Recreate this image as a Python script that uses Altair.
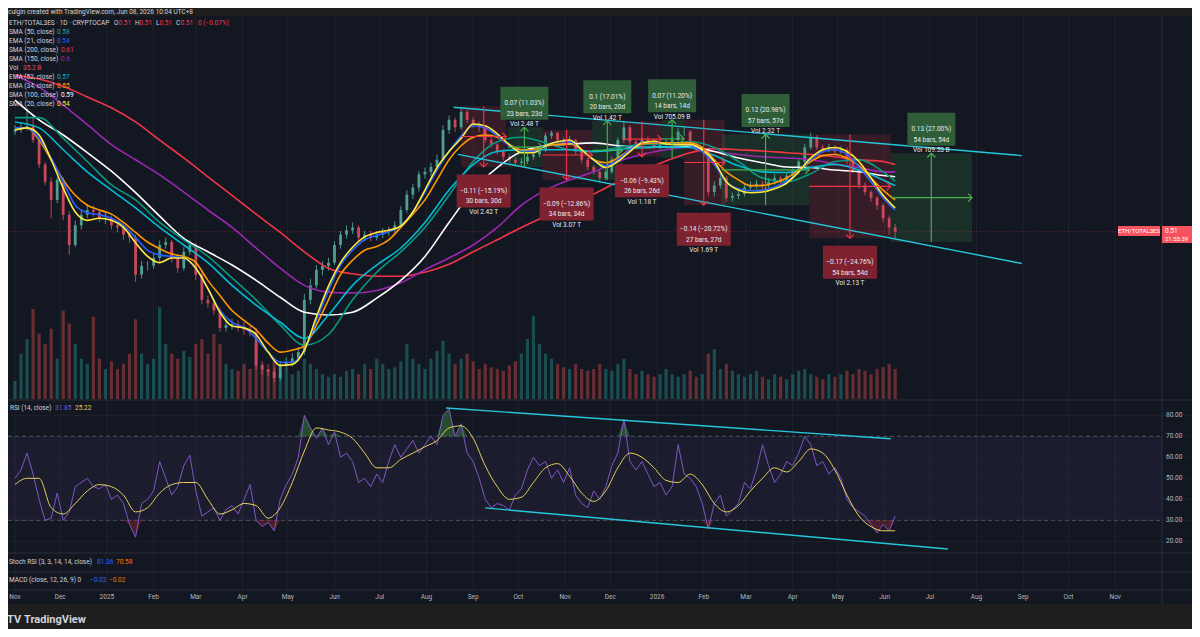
import altair as alt
import pandas as pd
import numpy as np

FONT = "Roboto"
BG = "#131722"
FRAME = "#1e1e1e"
TXT = "#d1d4dc"
MUTED = "#b2b5be"
GRID = "#1e222d"
SEP = "#2a2e39"
CANDLE_UP = "#4f9f91"
CANDLE_DN = "#c9485b"
VOL_UP = "#26a69a"
VOL_DN = "#ef5350"
GREEN = "#4caf50"
RED = "#f23645"
CHANNEL = "#26c6da"

# ---------------- data ----------------
first_open = 0.668
close = [
    0.671, 0.676, 0.678, 0.653, 0.611, 0.583, 0.555, 0.586, 0.533, 0.491,
    0.518, 0.533, 0.540, 0.537, 0.528, 0.528, 0.518, 0.515, 0.505, 0.501,
    0.453, 0.464, 0.464, 0.474, 0.491, 0.495, 0.474, 0.461, 0.482, 0.491,
    0.453, 0.423, 0.419, 0.411, 0.392, 0.395, 0.396, 0.392, 0.390, 0.388,
    0.354, 0.350, 0.348, 0.342, 0.354, 0.357, 0.361, 0.367, 0.423, 0.440,
    0.459, 0.464, 0.468, 0.491, 0.505, 0.511, 0.515, 0.501, 0.505, 0.501,
    0.505, 0.509, 0.511, 0.518, 0.540, 0.563, 0.574, 0.595, 0.599, 0.607,
    0.619, 0.671, 0.690, 0.676, 0.705, 0.690, 0.681, 0.676, 0.653, 0.645,
    0.633, 0.624, 0.619, 0.614, 0.616, 0.624, 0.628, 0.636, 0.661, 0.666,
    0.653, 0.648, 0.653, 0.633, 0.619, 0.607, 0.599, 0.589, 0.599, 0.619,
    0.653, 0.676, 0.650, 0.645, 0.653, 0.650, 0.640, 0.645, 0.650, 0.653,
    0.668, 0.668, 0.645, 0.636, 0.636, 0.567, 0.577, 0.589, 0.558, 0.561,
    0.564, 0.574, 0.577, 0.580, 0.577, 0.583, 0.589, 0.583, 0.593, 0.599,
    0.616, 0.640, 0.658, 0.640, 0.636, 0.640, 0.633, 0.636, 0.616, 0.602,
    0.578, 0.567, 0.558, 0.547, 0.528, 0.515, 0.509]
high = [
    0.680, 0.685, 0.712, 0.700, 0.658, 0.615, 0.590, 0.590, 0.590, 0.538,
    0.525, 0.540, 0.548, 0.547, 0.540, 0.536, 0.532, 0.524, 0.518, 0.510,
    0.505, 0.470, 0.470, 0.480, 0.497, 0.501, 0.498, 0.478, 0.488, 0.497,
    0.494, 0.456, 0.428, 0.424, 0.414, 0.400, 0.402, 0.400, 0.398, 0.394,
    0.392, 0.358, 0.355, 0.352, 0.358, 0.362, 0.366, 0.372, 0.430, 0.448,
    0.465, 0.470, 0.474, 0.496, 0.510, 0.518, 0.522, 0.518, 0.510, 0.510,
    0.510, 0.514, 0.516, 0.524, 0.546, 0.570, 0.580, 0.600, 0.606, 0.614,
    0.628, 0.680, 0.698, 0.694, 0.713, 0.710, 0.695, 0.686, 0.680, 0.658,
    0.648, 0.636, 0.628, 0.624, 0.622, 0.630, 0.634, 0.642, 0.666, 0.670,
    0.668, 0.658, 0.660, 0.656, 0.636, 0.622, 0.610, 0.602, 0.604, 0.624,
    0.658, 0.686, 0.680, 0.655, 0.658, 0.660, 0.654, 0.650, 0.655, 0.660,
    0.675, 0.678, 0.671, 0.650, 0.642, 0.640, 0.584, 0.596, 0.592, 0.566,
    0.570, 0.580, 0.583, 0.586, 0.584, 0.589, 0.595, 0.593, 0.598, 0.605,
    0.622, 0.646, 0.666, 0.662, 0.645, 0.646, 0.644, 0.642, 0.640, 0.620,
    0.605, 0.582, 0.570, 0.561, 0.550, 0.532, 0.520]
low = [
    0.662, 0.666, 0.670, 0.648, 0.605, 0.578, 0.528, 0.550, 0.525, 0.478,
    0.488, 0.512, 0.528, 0.530, 0.522, 0.520, 0.512, 0.508, 0.498, 0.494,
    0.444, 0.448, 0.458, 0.460, 0.470, 0.486, 0.468, 0.455, 0.458, 0.478,
    0.446, 0.418, 0.414, 0.406, 0.388, 0.388, 0.390, 0.388, 0.385, 0.383,
    0.350, 0.345, 0.344, 0.338, 0.339, 0.350, 0.353, 0.358, 0.364, 0.418,
    0.436, 0.452, 0.458, 0.465, 0.486, 0.500, 0.506, 0.496, 0.496, 0.496,
    0.497, 0.500, 0.503, 0.506, 0.514, 0.536, 0.556, 0.568, 0.588, 0.592,
    0.600, 0.615, 0.664, 0.668, 0.672, 0.684, 0.675, 0.668, 0.648, 0.640,
    0.628, 0.618, 0.614, 0.610, 0.609, 0.612, 0.619, 0.623, 0.632, 0.655,
    0.648, 0.642, 0.643, 0.628, 0.613, 0.602, 0.594, 0.584, 0.585, 0.596,
    0.615, 0.648, 0.645, 0.640, 0.641, 0.645, 0.636, 0.636, 0.640, 0.645,
    0.650, 0.660, 0.640, 0.632, 0.630, 0.560, 0.560, 0.572, 0.552, 0.553,
    0.556, 0.560, 0.569, 0.572, 0.571, 0.573, 0.578, 0.578, 0.579, 0.588,
    0.595, 0.612, 0.636, 0.636, 0.630, 0.632, 0.628, 0.629, 0.611, 0.597,
    0.573, 0.562, 0.552, 0.540, 0.522, 0.505, 0.500]
volume_b = [
    21, 53, 70, 105, 76, 64, 82, 47, 103, 88,
    64, 47, 41, 96, 47, 35, 44, 35, 41, 53,
    93, 53, 41, 47, 107, 64, 53, 47, 56, 49,
    64, 70, 53, 76, 64, 41, 35, 33, 41, 35,
    64, 41, 35, 44, 29, 35, 29, 33, 47, 41,
    35, 29, 26, 29, 26, 33, 35, 29, 41, 35,
    47, 41, 35, 37, 44, 64, 47, 41, 35, 47,
    56, 68, 53, 41, 47, 53, 44, 35, 41, 37,
    35, 33, 39, 44, 53, 70, 97, 64, 53, 47,
    41, 37, 35, 41, 35, 33, 35, 41, 35, 33,
    41, 47, 35, 29, 33, 29, 26, 29, 35, 29,
    26, 29, 33, 26, 29, 53, 58, 35, 41, 33,
    29, 26, 29, 33, 26, 23, 29, 26, 23, 29,
    33, 35, 29, 26, 23, 29, 26, 29, 33, 29,
    35, 33, 29, 35, 37, 41, 35]
rsi_values = [
    50, 54, 62, 52, 40, 30, 31, 43, 30, 34,
    46, 48, 50, 46, 45, 47, 40, 42, 38, 28,
    22, 38, 40, 44, 58, 50, 42, 46, 56, 61,
    44, 32, 34, 36, 30, 35, 37, 33, 40, 47,
    30, 27, 29, 25, 40, 47, 52, 60, 80, 74,
    69, 74, 66, 72, 60, 62, 58, 48, 50, 46,
    52, 48, 58, 66, 60, 64, 68, 62, 66, 70,
    66, 80, 83, 70, 76, 62, 58, 50, 40, 36,
    38, 37, 35, 42, 45, 54, 60, 56, 58, 50,
    54, 48, 55, 42, 38, 36, 44, 40, 46, 56,
    62, 78, 58, 54, 58, 52, 46, 48, 42, 46,
    66, 52, 50, 46, 38, 26, 38, 42, 32, 35,
    38, 48, 45, 54, 66, 56, 48, 52, 58, 56,
    62, 70, 66, 56, 58, 52, 55, 50, 40, 36,
    34, 32, 28, 24, 28, 25, 32]
rsi_ma = [
    47, 50, 50, 36, 33, 38, 44, 47, 46, 42,
    34, 36, 43, 47, 48, 48, 40, 33, 35, 38,
    37, 31, 36, 48, 63, 74, 73, 72, 69, 62,
    55, 55, 59, 62, 65, 68, 74, 75, 69, 56,
    46, 40, 41, 48, 55, 57, 51, 43, 39, 44,
    55, 62, 60, 55, 49, 48, 52, 47, 38, 34,
    37, 44, 50, 55, 53, 58, 64, 62, 54, 42,
    32, 27, 25, 25]

# fast averages, one reading every 8 days
sma20 = [
    0.671, 0.675, 0.662, 0.619, 0.573, 0.537, 0.525, 0.528, 0.525, 0.515,
    0.494, 0.476, 0.468, 0.474, 0.474, 0.461, 0.436, 0.409, 0.394, 0.392,
    0.385, 0.367, 0.354, 0.355, 0.369, 0.404, 0.439, 0.468, 0.488, 0.502,
    0.508, 0.511, 0.517, 0.537, 0.570, 0.606, 0.633, 0.656, 0.682, 0.679,
    0.664, 0.645, 0.631, 0.631, 0.643, 0.650, 0.653, 0.636, 0.619, 0.606,
    0.616, 0.633, 0.648, 0.651, 0.646, 0.645, 0.645, 0.636, 0.616, 0.583,
    0.570, 0.566, 0.567, 0.572, 0.581, 0.599, 0.622, 0.636, 0.640, 0.633,
    0.616, 0.589, 0.562, 0.543]
ema21 = [
    0.675, 0.675, 0.656, 0.622, 0.583, 0.547, 0.536, 0.533, 0.528, 0.518,
    0.501, 0.484, 0.478, 0.476, 0.474, 0.461, 0.436, 0.411, 0.398, 0.392,
    0.381, 0.367, 0.357, 0.357, 0.369, 0.400, 0.434, 0.465, 0.484, 0.498,
    0.504, 0.509, 0.517, 0.537, 0.567, 0.602, 0.633, 0.660, 0.679, 0.675,
    0.660, 0.643, 0.633, 0.633, 0.643, 0.650, 0.650, 0.636, 0.619, 0.609,
    0.619, 0.636, 0.648, 0.650, 0.646, 0.645, 0.643, 0.633, 0.611, 0.583,
    0.572, 0.569, 0.570, 0.575, 0.583, 0.599, 0.619, 0.633, 0.636, 0.628,
    0.607, 0.583, 0.558, 0.540]
ema34 = [
    0.675, 0.675, 0.653, 0.619, 0.586, 0.562, 0.547, 0.540, 0.534, 0.522,
    0.508, 0.495, 0.486, 0.479, 0.476, 0.468, 0.446, 0.428, 0.411, 0.400,
    0.390, 0.376, 0.367, 0.369, 0.373, 0.395, 0.423, 0.453, 0.471, 0.484,
    0.489, 0.498, 0.515, 0.534, 0.555, 0.586, 0.619, 0.643, 0.658, 0.662,
    0.658, 0.645, 0.636, 0.636, 0.643, 0.645, 0.646, 0.636, 0.619, 0.614,
    0.622, 0.636, 0.646, 0.648, 0.648, 0.648, 0.648, 0.640, 0.619, 0.599,
    0.586, 0.577, 0.577, 0.581, 0.589, 0.602, 0.616, 0.626, 0.628, 0.622,
    0.609, 0.589, 0.570, 0.555]
# slow averages, one reading every 16 days plus the last bar
ema52 = [0.686, 0.675, 0.636, 0.599, 0.570, 0.543, 0.515, 0.491, 0.468, 0.440,
         0.417, 0.398, 0.381, 0.406, 0.440, 0.465, 0.487, 0.522, 0.570, 0.611,
         0.633, 0.636, 0.636, 0.636, 0.633, 0.636, 0.640, 0.641, 0.640, 0.626,
         0.609, 0.599, 0.598, 0.606, 0.611, 0.602, 0.586, 0.577]
sma50 = [0.694, 0.694, 0.656, 0.616, 0.578, 0.555, 0.522, 0.498, 0.476, 0.449,
         0.423, 0.395, 0.374, 0.385, 0.423, 0.456, 0.482, 0.515, 0.562, 0.616,
         0.650, 0.658, 0.648, 0.636, 0.633, 0.640, 0.645, 0.646, 0.650, 0.640,
         0.616, 0.589, 0.583, 0.596, 0.616, 0.619, 0.599, 0.584]
sma100 = [0.728, 0.690, 0.662, 0.631, 0.600, 0.566, 0.531, 0.500, 0.482, 0.465,
          0.446, 0.426, 0.409, 0.406, 0.409, 0.425, 0.446, 0.476, 0.522, 0.570,
          0.606, 0.633, 0.643, 0.646, 0.648, 0.643, 0.640, 0.641, 0.641, 0.633,
          0.622, 0.614, 0.607, 0.606, 0.602, 0.599, 0.593, 0.591]
sma150 = [0.778, 0.754, 0.718, 0.681, 0.645, 0.619, 0.594, 0.567, 0.540, 0.515,
          0.487, 0.461, 0.440, 0.432, 0.431, 0.434, 0.443, 0.459, 0.474, 0.491,
          0.515, 0.547, 0.570, 0.586, 0.599, 0.616, 0.628, 0.636, 0.641, 0.633,
          0.628, 0.624, 0.622, 0.619, 0.612, 0.606, 0.599, 0.599]
sma200 = [0.779, 0.771, 0.756, 0.734, 0.713, 0.686, 0.653, 0.622, 0.591, 0.562,
          0.534, 0.508, 0.482, 0.461, 0.454, 0.451, 0.451, 0.456, 0.466, 0.482,
          0.498, 0.515, 0.531, 0.547, 0.564, 0.583, 0.601, 0.617, 0.631, 0.638,
          0.636, 0.634, 0.631, 0.628, 0.624, 0.619, 0.616, 0.611]

# price-range measurements
box_start = ["2025-08-24", "2025-09-24", "2025-10-17", "2025-11-19", "2025-12-09",
             "2026-01-04", "2026-01-19", "2026-02-13", "2026-04-12", "2026-06-05"]
box_end = ["2025-09-23", "2025-10-17", "2025-11-19", "2025-12-09", "2026-01-04",
           "2026-01-19", "2026-02-15", "2026-04-12", "2026-06-05", "2026-07-29"]
box_from = [0.716, 0.607, 0.671, 0.586, 0.687, 0.622, 0.690, 0.547, 0.663, 0.495]
box_to = [0.607, 0.676, 0.586, 0.688, 0.624, 0.690, 0.547, 0.663, 0.500, 0.630]
box_text = [
    "\u22120.11 (\u221215.19%)\n30 bars, 30d\nVol 2.42 T",
    "0.07 (11.03%)\n23 bars, 23d\nVol 2.48 T",
    "\u22120.09 (\u221212.86%)\n34 bars, 34d\nVol 3.07 T",
    "0.1 (17.01%)\n20 bars, 20d\nVol 1.42 T",
    "\u22120.06 (\u22129.43%)\n26 bars, 26d\nVol 1.18 T",
    "0.07 (11.20%)\n14 bars, 14d\nVol 705.09 B",
    "\u22120.14 (\u221220.72%)\n27 bars, 27d\nVol 1.69 T",
    "0.12 (20.98%)\n57 bars, 57d\nVol 2.32 T",
    "\u22120.17 (\u221224.76%)\n54 bars, 54d\nVol 2.13 T",
    "0.13 (27.00%)\n54 bars, 54d\nVol 109.53 B",
]

# channel lines
price_channel = {"line": ["upper", "upper", "lower", "lower"],
                 "date": ["2025-08-19", "2026-08-31", "2025-08-22", "2026-08-31"],
                 "price": [0.714, 0.626, 0.628, 0.467]}
rsi_channel = {"line": ["upper", "upper", "lower", "lower"],
               "date": ["2025-08-14", "2026-06-05", "2025-09-09", "2026-07-13"],
               "rsi": [83.5, 68.8, 35.9, 16.3]}
rsi_levels = [20, 30, 40, 50, 60, 70, 80]
rsi_level_labels = ["20.00", "30.00", "40.00", "50.00", "60.00", "70.00", "80.00"]
last_price = 0.509

month_dates = pd.date_range("2024-11-01", "2026-11-01", freq="MS").strftime("%Y-%m-%d")
month_labels = ["Nov", "Dec", "2025", "Feb", "Mar", "Apr", "May", "Jun", "Jul", "Aug", "Sep", "Oct",
                "Nov", "Dec", "2026", "Feb", "Mar", "Apr", "May", "Jun", "Jul", "Aug", "Sep", "Oct", "Nov"]

# ---------------- frames ----------------
candle_dates = pd.date_range("2024-11-01", periods=len(close), freq="4D").strftime("%Y-%m-%d")
fast_dates = pd.date_range("2024-11-01", periods=len(sma20), freq="8D").strftime("%Y-%m-%d")
slow_dates = list(pd.date_range("2024-11-01", periods=37, freq="16D").strftime("%Y-%m-%d")) + ["2026-06-08"]

candles = pd.DataFrame({"date": candle_dates, "close": close, "high": high, "low": low,
                        "vol": volume_b, "rsi": rsi_values})
candles["open"] = [first_open] + close[:-1]

boxes = pd.DataFrame({"t1": box_start, "t2": box_end, "p1": box_from, "p2": box_to, "label": box_text})
boxes["kind"] = np.where(boxes["p2"] > boxes["p1"], "up", "down")
_t1 = pd.to_datetime(boxes["t1"])
_t2 = pd.to_datetime(boxes["t2"])
boxes["tmid"] = (_t1 + (_t2 - _t1) / 2).dt.strftime("%Y-%m-%d")
boxes["pmid"] = np.sqrt(boxes["p1"] * boxes["p2"])

months = pd.DataFrame({"m": month_dates, "lab": month_labels})
levels = pd.DataFrame({"v": rsi_levels, "lab": rsi_level_labels})

# ---------------- scales ----------------
W, H = 1184, 621
PR = 1154  # right edge of the panes
xs = alt.Scale(type="utc", nice=False, domain=[
    alt.DateTime(year=2024, month=10, date=30, hours=16, minutes=25, utc=True),
    alt.DateTime(year=2026, month=12, date=18, hours=15, minutes=7, utc=True)])
ps = alt.Scale(type="log", domain=[0.3, 0.9], range=[418.3, 14.0], nice=False)
vs = alt.Scale(type="linear", domain=[0, 140], range=[391, 271], nice=False, zero=False)
rs = alt.Scale(type="linear", domain=[0, 100], range=[575.3, 365.3], nice=False, zero=False)


def X(field):
    return alt.X(f"{field}:T", scale=xs, axis=None)


def PY(field):
    return alt.Y(f"{field}:Q", scale=ps, axis=None)


def RY(field):
    return alt.Y(f"{field}:Q", scale=rs, axis=None)


kind_color = alt.Color("kind:N", scale=alt.Scale(domain=["up", "down"], range=[GREEN, RED]), legend=None)
up_cond = "datum.close >= datum.open"

layers = []

# month grid
layers.append(alt.Chart(months).mark_rule(color=GRID, strokeWidth=1).encode(
    x=X("m"), y=alt.value(8), y2=alt.value(582)))

# RSI band and grid
one = pd.DataFrame({"a": [0]})
layers.append(alt.Chart(one).mark_rect(color="#7e57c2", opacity=0.09).encode(
    x=alt.value(0), x2=alt.value(PR),
    y=alt.Y(datum=70, type="quantitative", scale=rs, axis=None), y2=alt.Y2(datum=30)))
layers.append(alt.Chart(levels).mark_rule(color=GRID).encode(
    y=RY("v"), x=alt.value(0), x2=alt.value(1185)))
layers.append(alt.Chart(pd.DataFrame({"v": [70, 30]})).mark_rule(
    color="#787b86", strokeDash=[4, 3], opacity=0.55).encode(y=RY("v"), x=alt.value(0), x2=alt.value(PR)))

# volume
layers.append(alt.Chart(candles).mark_bar(width=3.2, opacity=0.38).encode(
    x=X("date"), y=alt.Y("vol:Q", scale=vs, axis=None),
    color=alt.condition(up_cond, alt.value(VOL_UP), alt.value(VOL_DN))))

# measurement rectangles
layers.append(alt.Chart(boxes).mark_rect(opacity=0.16).encode(
    x=X("t1"), x2="t2", y=PY("p1"), y2="p2", color=kind_color))

# candles
cc = alt.condition(up_cond, alt.value(CANDLE_UP), alt.value(CANDLE_DN))
layers.append(alt.Chart(candles).mark_rule(strokeWidth=0.9).encode(
    x=X("date"), y=PY("low"), y2="high", color=cc))
layers.append(alt.Chart(candles).mark_bar(width=2.8).encode(
    x=X("date"), y=PY("open"), y2="close", color=cc))


def ma(dates, vals, color, width=1.6):
    df = pd.DataFrame({"date": dates, "v": vals})
    return alt.Chart(df).mark_line(color=color, strokeWidth=width, interpolate="monotone").encode(
        x=X("date"), y=PY("v"))


layers += [
    ma(slow_dates, sma200, "#f23645"),
    ma(slow_dates, sma150, "#9c27b0"),
    ma(slow_dates, sma100, "#ffffff"),
    ma(slow_dates, sma50, "#089981"),
    ma(slow_dates, ema52, "#00bcd4"),
    ma(fast_dates, ema34, "#ff9800"),
    ma(fast_dates, ema21, "#2962ff"),
    ma(fast_dates, sma20, "#ffeb3b"),
]

# price channel
layers.append(alt.Chart(pd.DataFrame(price_channel)).mark_line(color=CHANNEL, strokeWidth=1.4).encode(
    x=X("date"), y=PY("price"), detail="line:N"))

# measurement arrows
layers.append(alt.Chart(boxes).mark_rule(strokeWidth=1.1).encode(
    x=X("tmid"), y=PY("p1"), y2="p2", color=kind_color))
layers.append(alt.Chart(boxes).mark_rule(strokeWidth=1.1).encode(
    x=X("t1"), x2="t2", y=PY("pmid"), color=kind_color))
layers.append(alt.Chart(boxes).transform_filter("datum.kind == 'up'").mark_point(
    shape="M-1,1L0,0L1,1", filled=False, size=64, strokeWidth=1.2, opacity=1).encode(
    x=X("tmid"), y=PY("p2"), color=kind_color))
layers.append(alt.Chart(boxes).transform_filter("datum.kind == 'down'").mark_point(
    shape="M-1,-1L0,0L1,-1", filled=False, size=64, strokeWidth=1.2, opacity=1).encode(
    x=X("tmid"), y=PY("p2"), color=kind_color))
layers.append(alt.Chart(boxes).mark_point(
    shape="M-1,-1L0,0L-1,1", filled=False, size=64, strokeWidth=1.2, opacity=1).encode(
    x=X("t2"), y=PY("pmid"), color=kind_color))

# measurement labels
for kind, fill, w, off in [("down", "#7f2230", 54, 24), ("up", "#2e5d37", 48, -24)]:
    hh = 16.5 / (w / 2)
    path = f"M-1,-{hh:.3f}L1,-{hh:.3f}L1,{hh:.3f}L-1,{hh:.3f}Z"
    layers.append(alt.Chart(boxes).transform_filter(f"datum.kind == '{kind}'").mark_point(
        shape=path, size=w * w, filled=True, color=fill, opacity=1, strokeWidth=0, yOffset=off).encode(
        x=X("tmid"), y=PY("p2")))
    layers.append(alt.Chart(boxes).transform_filter(f"datum.kind == '{kind}'").mark_text(
        yOffset=off, lineBreak="\n", lineHeight=10.5, fontSize=6.5, font=FONT, color="#e8eaf0",
        align="center", baseline="middle").encode(x=X("tmid"), y=PY("p2"), text="label:N"))

# RSI
layers.append(alt.Chart(candles).transform_calculate(hi="max(datum.rsi, 70)").mark_area(
    color=GREEN, opacity=0.35).encode(x=X("date"), y=RY("hi"), y2=alt.Y2(datum=70)))
layers.append(alt.Chart(candles).transform_calculate(lo="min(datum.rsi, 30)").mark_area(
    color=RED, opacity=0.25).encode(x=X("date"), y=RY("lo"), y2=alt.Y2(datum=30)))
layers.append(alt.Chart(candles).mark_line(color="#7e57c2", strokeWidth=1).encode(
    x=X("date"), y=RY("rsi")))
layers.append(alt.Chart(pd.DataFrame({"date": fast_dates, "v": rsi_ma})).mark_line(
    color="#e6d05a", strokeWidth=1, interpolate="monotone").encode(x=X("date"), y=RY("v")))
layers.append(alt.Chart(pd.DataFrame(rsi_channel)).mark_line(color=CHANNEL, strokeWidth=1.4).encode(
    x=X("date"), y=RY("rsi"), detail="line:N"))

# RSI scale labels
layers.append(alt.Chart(levels).mark_text(align="left", baseline="middle", fontSize=6.5, font=FONT,
                                          color=MUTED).encode(
    y=RY("v"), x=alt.value(PR + 4), text="lab:N"))

# last price line
layers.append(alt.Chart(one).mark_rule(color=RED, opacity=0.45, strokeDash=[1, 2]).encode(
    y=alt.Y(datum=last_price, type="quantitative", scale=ps, axis=None), x=alt.value(0), x2=alt.value(1110)))


# frame pieces
def box(x1, x2, y1, y2, color):
    return alt.Chart(one).mark_rect(color=color).encode(
        x=alt.value(x1), x2=alt.value(x2), y=alt.value(y1), y2=alt.value(y2))


def hline(y, x1=0, x2=1185):
    return alt.Chart(one).mark_rule(color=SEP, strokeWidth=1).encode(
        x=alt.value(x1), x2=alt.value(x2), y=alt.value(y))


layers += [box(0, W, 0, 8, FRAME), box(0, W, 596, H, FRAME),
           hline(392), hline(545), hline(564), hline(582),
           alt.Chart(one).mark_rule(color=SEP).encode(x=alt.value(PR), y=alt.value(8), y2=alt.value(596))]

# month labels on the time scale
layers.append(alt.Chart(months).mark_text(align="center", baseline="middle", fontSize=6.5, font=FONT,
                                          color=MUTED).encode(
    x=X("m"), y=alt.value(589), text="lab:N"))

# price tag
layers += [box(1110, 1152, 218, 228, "#f7525f"), box(1154, 1184, 218, 235, "#f7525f")]


def txt(s, x, y, color=TXT, size=6.5, weight="normal", align="left"):
    return alt.Chart(pd.DataFrame({"t": [s]})).mark_text(
        align=align, baseline="middle", fontSize=size, font=FONT, color=color, fontWeight=weight).encode(
        x=alt.value(x), y=alt.value(y), text="t:N")


layers += [txt("ETH/TOTAL3ES", 1131, 223, "#ffffff", 6, align="center"),
           txt("0.51", 1157, 222.5, "#ffffff", 6.5),
           txt("21:55:39", 1157, 231, "#ffffff", 6)]

# header, legends
RV = "#f23645"
OX = 106
layers += [
    txt("culgin created with TradingView.com, Jun 08, 2026 10:04 UTC+8", 0, 4, TXT, 6.5),
    txt("ETH/TOTAL3ES \u00b7 1D \u00b7 CRYPTOCAP", 1, 14.7),
    txt("O", OX, 14.7), txt("0.51", OX + 4.5, 14.7, RV),
    txt("H", OX + 21, 14.7), txt("0.51", OX + 25.5, 14.7, RV),
    txt("L", OX + 42, 14.7), txt("0.51", OX + 45.5, 14.7, RV),
    txt("C", OX + 62, 14.7), txt("0.51", OX + 66.5, 14.7, RV),
    txt("0 (\u22120.07%)", OX + 84, 14.7, RV),
    txt("SMA (50, close)", 1, 23.7), txt("0.58", 49, 23.7, "#26a69a"),
    txt("EMA (21, close)", 1, 33), txt("0.54", 49, 33, "#2962ff"),
    txt("SMA (200, close)", 1, 42), txt("0.61", 53, 42, "#f23645"),
    txt("SMA (150, close)", 1, 51.3), txt("0.6", 53, 51.3, "#9c27b0"),
    txt("Vol", 1, 60.3), txt("35.2 B", 15, 60.3, "#e0505c"),
    txt("EMA (52, close)", 1, 69.3), txt("0.57", 49, 69.3, "#00bcd4"),
    txt("EMA (34, close)", 1, 78.3), txt("0.55", 49, 78.3, "#ff9800"),
    txt("SMA (100, close)", 1, 87.3), txt("0.59", 53, 87.3, "#ffffff"),
    txt("SMA (20, close)", 1, 96.3), txt("0.54", 49, 96.3, "#ffeb3b"),
    txt("RSI (14, close)", 2, 400), txt("31.85", 47, 400, "#7e57c2"), txt("25.22", 67, 400, "#e6d05a"),
    txt("Stoch RSI (3, 3, 14, 14, close)", 1, 554), txt("81.36", 89, 554, "#2962ff"),
    txt("70.58", 108, 554, "#ff6d00"),
    txt("MACD (close, 12, 26, 9)  0", 1, 572), txt("\u22120.02", 82, 572, "#2962ff"),
    txt("\u22120.02", 101, 572, "#ff6d00"),
    txt("TV", -1, 612, TXT, 11, "bold"),
    txt("TradingView", 16, 612, TXT, 11, "bold"),
]

chart = alt.layer(*layers).resolve_scale(y="independent").properties(
    width=W, height=H, autosize=alt.AutoSizeParams(type="none"), padding=0, background=FRAME
).configure_view(fill=BG, stroke=None)

chart.save("out.html", embed_options={"renderer": "svg", "actions": False})
